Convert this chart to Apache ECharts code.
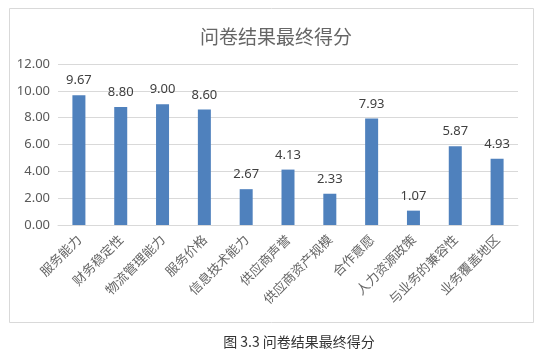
<!DOCTYPE html>
<html>
<head>
<meta charset="utf-8">
<script src="https://cdn.jsdelivr.net/npm/echarts@6/dist/echarts.min.js"></script>
<style>
    html, body { margin: 0; padding: 0; background: #fff; }
    #main { width: 545px; height: 352px; }
</style>
</head>
<body>
<div id="main"></div>
<script>
// 评价指标
var categories = ['服务能力', '财务稳定性', '物流管理能力', '服务价格', '信息技术能力', '供应商声誉',
    '供应商资产规模', '合作意愿', '人力资源政策', '与业务的兼容性', '业务覆盖地区'];
// 最终得分
var scores = [9.67, 8.80, 9.00, 8.60, 2.67, 4.13, 2.33, 7.93, 1.07, 5.87, 4.93];

var myChart = echarts.init(document.getElementById('main'));

var option = {
    animation: false,
    backgroundColor: '#fff',
    title: {
        text: '问卷结果最终得分',
        left: 271,
        textAlign: 'center',
        top: 22,
        textStyle: {
            fontFamily: 'Noto Sans CJK SC',
            fontWeight: 'normal',
            fontSize: 19,
            color: '#666'
        }
    },
    grid: {
        left: 58,
        right: 27,
        top: 64,
        bottom: 127,
        containLabel: false
    },
    xAxis: {
        type: 'category',
        data: categories,
        axisTick: { show: false },
        axisLine: { lineStyle: { color: '#d9d9d9' } },
        axisLabel: {
            rotate: 45,
            interval: 0,
            margin: 12,
            fontSize: 13,
            color: '#666',
            fontFamily: 'Noto Sans CJK SC'
        }
    },
    yAxis: {
        type: 'value',
        min: 0,
        max: 12,
        interval: 2,
        axisLine: { show: false },
        axisTick: { show: false },
        splitLine: { lineStyle: { color: '#d9d9d9' } },
        axisLabel: {
            margin: 8,
            fontSize: 13,
            color: '#595959',
            fontFamily: 'Noto Sans'
        ,
            formatter: function (v) { return v.toFixed(2); }
        }
    },
    series: [{
        type: 'bar',
        data: scores,
        barWidth: 13,
        itemStyle: { color: '#4f81bd' },
        label: {
            show: true,
            position: 'top',
            distance: 8,
            fontSize: 13,
            color: '#404040',
            fontFamily: 'Noto Sans',
            formatter: function (p) { return p.value.toFixed(2); }
        }
    }],
    graphic: [
        {
            type: 'rect',
            shape: { x: 9.5, y: 8.5, width: 524, height: 314 },
            style: { fill: 'none', stroke: '#d9d9d9', lineWidth: 1 },
            silent: true
        },
        {
            type: 'text',
            x: 299,
            y: 342,
            style: {
                text: '图 3.3 问卷结果最终得分',
                align: 'center',
                verticalAlign: 'middle',
                fontSize: 14,
                fill: '#333',
                fontFamily: 'Noto Sans CJK SC'
            }
        }
    ]
};

myChart.setOption(option);
</script>
</body>
</html>
